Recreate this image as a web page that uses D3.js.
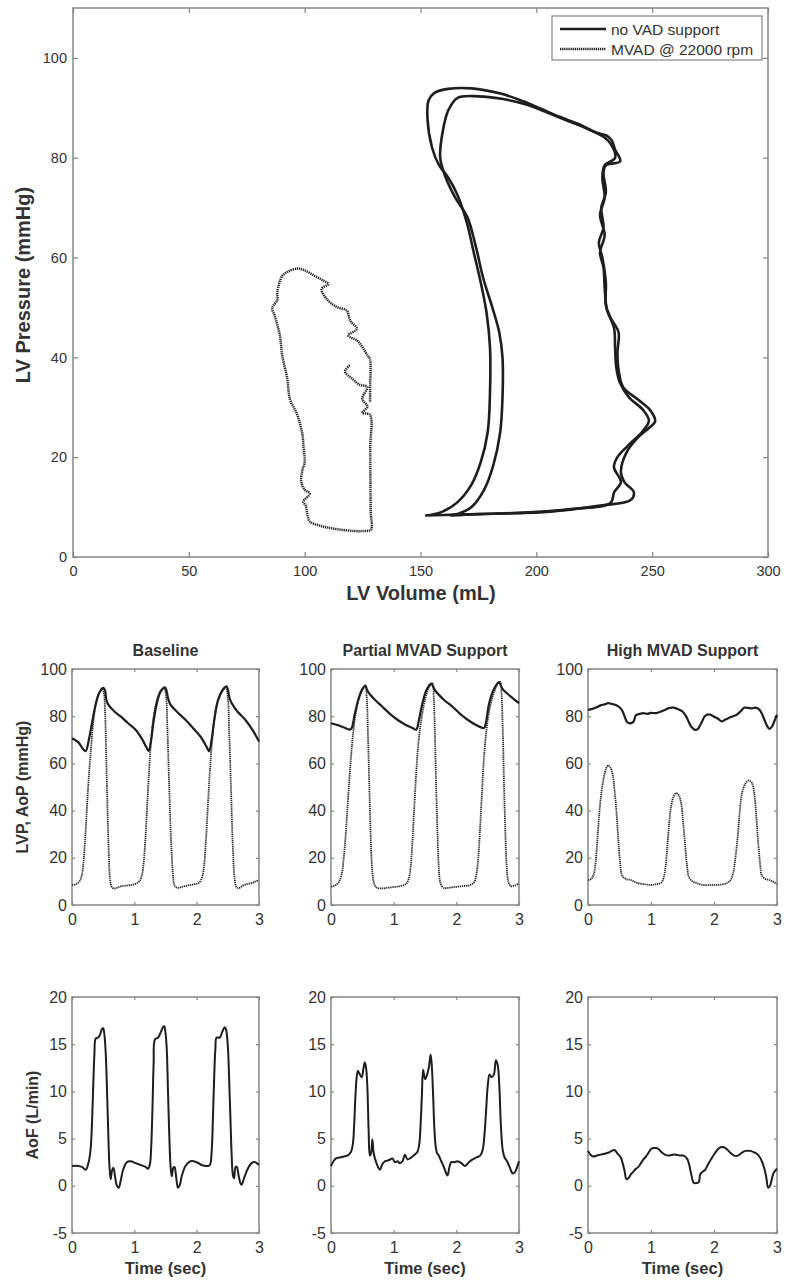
<!DOCTYPE html>
<html>
<head>
<meta charset="utf-8">
<script src="https://cdn.jsdelivr.net/npm/d3@7"></script>
<style>
  body { margin: 0; background: #fff; }
  svg text { font-family: "Liberation Sans", Arial, sans-serif; fill: #333; }
</style>
</head>
<body>
<svg id="fig" width="786" height="1280"></svg>
<script>
// ---- data ----
var volumeTicks = [0, 50, 100, 150, 200, 250, 300];
var pressureTicksPV = [0, 20, 40, 60, 80, 100];
var timeTicks = [0, 1, 2, 3];
var pressureTicks = [0, 20, 40, 60, 80, 100];
var flowTicks = [-5, 0, 5, 10, 15, 20];
var panelTitles = ["Baseline", "Partial MVAD Support", "High MVAD Support"];
var legendLabels = ["no VAD support", "MVAD @ 22000 rpm"];

// PV loops [volume mL, pressure mmHg]
var noVadLoop1 = [[152,8.3],[165,8.5],[184,8.7],[206,9.1],[227.6,10.3],[240.7,11.4],[242.1,13],[238,15],[236.5,17],[239,21],[244,24],[249,26],[251.3,27.2],[249,29.5],[244,31.5],[237.5,34],[235.5,37.5],[235,41],[235.5,45],[232,48],[230,50.5],[230,55],[228.5,60],[227,63],[229,66],[228,70],[230,73],[229,77],[230,78.5],[236.2,79.3],[234,81.6],[232.5,83.5],[230,84.5],[226,85],[218,86.8],[210,88.2],[202,89.8],[195,91.2],[185,92.8],[172,93.9],[162,93.8],[156,93],[153.5,91.5],[153,88],[155,82],[158,78.5],[162,76],[166,72.5],[170,67],[173,61],[176,55],[178.5,49],[180,42],[180,33],[179,25],[176,19],[172,14.5],[166,11],[159,9],[152,8.3]];
var noVadLoop2 = [[162.7,8.3],[175,8.6],[195,8.9],[215,9.6],[232,10.8],[233.6,13],[236.5,15],[233.5,18],[235,20],[240,22.5],[245.5,25],[248.6,27.3],[246,29.5],[240,32],[236,35],[234.5,38],[234,42],[233.5,46],[230.5,49.5],[229.5,54],[229,58],[227.5,61],[229.5,64.5],[227.5,68.5],[229.5,72],[228.5,76],[229.5,78.5],[234,80],[232.5,82.5],[229,84.2],[222,85.8],[214,87.3],[205,89],[196,90.6],[185,91.8],[175,92.3],[166,92],[162,89.5],[159.5,85],[158.5,80],[160.5,76.5],[165,72],[170.3,68],[174,62],[177,56],[181,50],[184,45],[185.4,40],[185.4,32],[184.4,25],[181.5,18.5],[177.5,13.5],[172,10],[166,8.6],[162.7,8.3]];
var mvadLoop = [[119.5,38.4],[117.4,37.2],[120.6,35.7],[123.8,34.5],[127,34.1],[124.9,31.7],[127.1,30.1],[124.9,28.9],[128.2,28.5],[128.3,22],[128.4,15],[128.5,9],[128.6,5.5],[125,5.2],[121.7,5.2],[115.2,5.5],[110,5.9],[106.5,6.3],[102.2,7.1],[101.1,8.7],[100.5,10.3],[99.4,11.1],[102.2,12.7],[100,13.5],[98.5,15.1],[99,17.4],[100,19],[99.5,22],[99,24.6],[96.8,28.5],[93.6,31.7],[92.5,35.7],[90.3,40.4],[89.3,44.4],[87.1,48.3],[86,49.9],[88.2,51.5],[88.2,53.1],[90.3,56.3],[92.5,57.1],[96.8,57.8],[100.1,57.4],[104.4,56.3],[108,55.4],[110.2,54.7],[107.3,53.7],[109.5,51.7],[113.8,50.1],[118.1,49.4],[119.6,47.4],[122.5,45.7],[118.8,44.4],[122.5,43.4],[123.8,42.8],[127.1,40.4],[128.2,39.6],[128.3,35],[128.2,31]];

// pressures [time s, mmHg]
var baselineAoP = [[0,70.7],[0.1,69],[0.18,66],[0.22,65.2],[0.27,70],[0.32,77],[0.38,85],[0.44,90],[0.5,92],[0.53,91],[0.55,87],[0.58,85],[0.68,82],[0.78,79.9],[0.9,77],[1.02,74.3],[1.12,70.5],[1.2,66.5],[1.23,65.3],[1.27,70],[1.31,78],[1.37,86.5],[1.43,90.8],[1.49,92.2],[1.52,90.5],[1.54,87.7],[1.58,84.9],[1.7,81.5],[1.82,78.5],[1.94,75],[2.06,71.4],[2.16,67],[2.2,65.2],[2.24,70],[2.28,78],[2.34,86.5],[2.42,91.2],[2.48,92.6],[2.51,90],[2.53,87.5],[2.56,85.6],[2.66,81.8],[2.78,78.5],[2.9,74],[3,69.3]];
var baselineLVP = [[0,8.5],[0.06,8.8],[0.12,10],[0.16,13],[0.19,20],[0.22,32],[0.25,46],[0.28,58],[0.31,68],[0.34,77],[0.38,85],[0.43,89.5],[0.48,91.5],[0.51,90],[0.53,82],[0.55,62],[0.57,40],[0.59,22],[0.61,11],[0.64,7.5],[0.68,7],[0.74,7.5],[0.8,8],[0.9,8.3],[1.0,8.8],[1.08,10],[1.12,12.5],[1.15,18],[1.18,29],[1.21,44],[1.24,58],[1.27,70],[1.31,80],[1.37,87.5],[1.43,91],[1.48,91.5],[1.51,88],[1.53,75],[1.56,50],[1.59,27],[1.62,13],[1.65,8],[1.7,7.3],[1.78,7.8],[1.86,8.3],[1.96,8.8],[2.04,9.5],[2.09,12],[2.12,17],[2.15,28],[2.18,42],[2.21,56],[2.24,67],[2.28,78],[2.34,86.5],[2.42,91],[2.47,92],[2.5,88],[2.52,75],[2.55,50],[2.58,25],[2.61,11],[2.64,7.5],[2.68,7.2],[2.74,8.2],[2.8,8.8],[2.88,9.3],[2.95,10],[3,10.5]];
var partialAoP = [[0,77],[0.1,76.3],[0.2,75.3],[0.3,74.3],[0.33,75],[0.38,81],[0.44,87.5],[0.5,91.5],[0.55,93],[0.57,91.5],[0.6,90],[0.7,87],[0.82,84],[0.94,81],[1.06,78.5],[1.18,76.5],[1.3,75],[1.36,74.3],[1.4,78],[1.46,85.6],[1.53,91.5],[1.6,93.8],[1.63,92.5],[1.66,91],[1.8,87],[1.94,84],[2.06,81],[2.18,78.5],[2.3,76.5],[2.44,75],[2.47,77],[2.52,85],[2.6,91.5],[2.68,94.5],[2.71,93],[2.74,91.5],[2.86,88.5],[3,85.5]];
var partialLVP = [[0,7.8],[0.08,8.5],[0.13,10],[0.17,13],[0.2,19],[0.23,28],[0.26,40],[0.29,52],[0.32,63],[0.35,72],[0.4,82],[0.46,88.5],[0.52,92],[0.55,92.5],[0.57,88],[0.59,72],[0.61,52],[0.63,32],[0.65,18],[0.68,10],[0.72,7.5],[0.8,7],[0.9,7.3],[1.0,7.6],[1.1,8],[1.2,9],[1.24,11],[1.27,16],[1.3,27],[1.33,42],[1.36,56],[1.4,70],[1.45,80],[1.51,88],[1.57,92.5],[1.62,94],[1.64,88],[1.66,70],[1.68,48],[1.7,30],[1.72,16],[1.75,9],[1.8,7.2],[1.9,7.4],[2.0,7.7],[2.1,8],[2.2,8.3],[2.28,9.5],[2.32,13],[2.35,20],[2.38,33],[2.41,48],[2.44,62],[2.48,74],[2.53,83],[2.6,90],[2.66,93.5],[2.7,94.5],[2.72,90],[2.74,75],[2.76,52],[2.78,33],[2.8,18],[2.83,10],[2.87,8],[2.93,8.3],[3,9]];
var highAoP = [[0,82.7],[0.06,83],[0.12,83.6],[0.2,84.6],[0.26,85],[0.32,85.5],[0.38,85.2],[0.44,84.7],[0.5,83.8],[0.54,82.5],[0.58,80],[0.62,77.5],[0.66,77],[0.72,77.6],[0.76,80.4],[0.82,81],[0.88,81.3],[0.94,81],[1.0,81.4],[1.08,81.3],[1.16,82],[1.22,82.6],[1.28,83.4],[1.36,83.6],[1.44,82.8],[1.5,82],[1.56,79.8],[1.6,77.5],[1.64,75.5],[1.7,74.2],[1.74,74.5],[1.8,77.2],[1.86,80.2],[1.92,80.8],[2.0,79.8],[2.06,79],[2.12,77.8],[2.18,78.6],[2.24,79.3],[2.3,80],[2.36,80.6],[2.42,82],[2.48,83.6],[2.54,83.5],[2.6,83.3],[2.66,83.6],[2.72,82.8],[2.76,81],[2.8,78.5],[2.84,76],[2.88,74.6],[2.92,75.6],[2.96,78],[3,80.6]];
var highLVP = [[0,10.6],[0.05,11],[0.09,13],[0.12,18],[0.15,28],[0.18,39],[0.21,47],[0.25,54],[0.29,58],[0.32,59.2],[0.35,58.5],[0.39,55.5],[0.42,49],[0.45,40],[0.48,28],[0.51,18],[0.54,12.5],[0.6,11],[0.68,10.6],[0.76,9.5],[0.84,9],[0.92,8.7],[1.0,8.5],[1.08,8.8],[1.16,9.4],[1.2,11.5],[1.23,16],[1.26,25],[1.29,35],[1.32,42],[1.36,46],[1.4,47.4],[1.44,46.5],[1.48,43],[1.51,35],[1.54,26],[1.57,17],[1.6,12],[1.65,10.2],[1.72,9.3],[1.8,8.6],[1.9,8.4],[2.0,8.5],[2.1,8.6],[2.2,9.2],[2.26,10.5],[2.3,13],[2.34,20],[2.38,30],[2.41,40],[2.45,48],[2.5,51.5],[2.55,52.8],[2.6,51.8],[2.64,47],[2.67,38],[2.7,27],[2.73,18],[2.76,12.5],[2.82,11],[2.88,10.6],[2.94,9.8],[3,8.8]];

// aortic flow [time s, L/min]
var baselineAoF = [[0,2.1],[0.1,2.1],[0.16,2],[0.22,1.7],[0.27,2.6],[0.3,4],[0.32,6.5],[0.34,10.5],[0.36,14],[0.38,15.6],[0.42,15.7],[0.45,16],[0.48,16.6],[0.5,16.7],[0.52,16],[0.54,14.2],[0.56,10.5],[0.58,6],[0.6,2.2],[0.62,0.7],[0.645,1.7],[0.665,1.9],[0.69,1],[0.72,0],[0.75,-0.2],[0.78,0.5],[0.82,1.7],[0.88,2.5],[0.94,2.6],[1.02,2.4],[1.1,2.2],[1.18,2],[1.22,1.8],[1.25,2.3],[1.27,4],[1.29,8],[1.31,13],[1.33,15.5],[1.38,15.7],[1.42,16.2],[1.46,16.8],[1.48,16.9],[1.5,16.2],[1.52,14.5],[1.54,10],[1.56,5.5],[1.58,2.2],[1.6,1],[1.625,1.9],[1.645,2],[1.67,1],[1.7,-0.2],[1.73,0.1],[1.76,1],[1.82,2.1],[1.9,2.6],[2.0,2.5],[2.08,2.2],[2.16,2.1],[2.21,2.2],[2.24,3.6],[2.26,7],[2.28,11.3],[2.3,14.5],[2.32,15.7],[2.37,15.7],[2.41,16.3],[2.45,16.8],[2.47,16.6],[2.5,14.8],[2.52,11.5],[2.54,7.5],[2.56,3.5],[2.58,1.2],[2.6,0.8],[2.625,2],[2.645,2],[2.67,1.2],[2.7,0.3],[2.72,0.1],[2.76,0.8],[2.82,1.8],[2.88,2.4],[2.94,2.5],[3,2.2]];
var partialAoF = [[0,2.1],[0.04,2.6],[0.08,2.9],[0.14,3],[0.2,3.1],[0.26,3.2],[0.32,3.6],[0.35,4.5],[0.37,6.5],[0.39,9.5],[0.41,11.5],[0.43,12.2],[0.46,11.8],[0.49,11.5],[0.52,12.5],[0.54,13.1],[0.56,12.5],[0.58,10.5],[0.6,6],[0.62,3.2],[0.64,3.5],[0.66,4.9],[0.68,3.5],[0.71,2.7],[0.75,2],[0.78,1.7],[0.82,2.3],[0.86,2.6],[0.92,2.7],[0.98,2.9],[1.02,2.5],[1.06,2.6],[1.1,2.4],[1.14,2.6],[1.18,3.3],[1.22,2.8],[1.26,2.9],[1.32,3.2],[1.38,3.6],[1.41,4.5],[1.43,6.5],[1.45,9.5],[1.47,12.3],[1.5,11.3],[1.53,11.7],[1.56,12.5],[1.59,13.9],[1.61,12.5],[1.63,9.5],[1.65,6],[1.67,4.2],[1.69,3.5],[1.72,3.2],[1.76,2.6],[1.8,2],[1.84,1.3],[1.86,1.1],[1.89,2],[1.92,2.5],[1.97,2.5],[2.02,2.6],[2.08,2.4],[2.14,2.1],[2.2,2.5],[2.26,2.8],[2.32,3],[2.38,3.2],[2.42,3.8],[2.45,5.5],[2.48,8.5],[2.5,10.5],[2.53,11.8],[2.56,11.5],[2.6,11.8],[2.63,13.3],[2.66,12.8],[2.69,10],[2.71,6.5],[2.74,3.8],[2.77,3],[2.81,2.6],[2.85,2],[2.9,1.3],[2.94,1.5],[2.97,2],[3,2.6]];
var highAoF = [[0,3.7],[0.04,3.3],[0.08,3.1],[0.14,3.2],[0.2,3.3],[0.26,3.4],[0.32,3.5],[0.38,3.7],[0.42,3.8],[0.47,3.4],[0.52,3],[0.55,2.4],[0.58,1.6],[0.61,0.7],[0.64,0.8],[0.68,1.2],[0.72,1.5],[0.76,1.8],[0.8,2],[0.84,2.4],[0.88,2.8],[0.92,3.1],[0.96,3.5],[1.0,3.9],[1.04,4],[1.08,4],[1.12,3.9],[1.16,3.6],[1.22,3.3],[1.28,3.2],[1.34,3.3],[1.4,3.3],[1.46,3.2],[1.52,3.2],[1.57,2.9],[1.6,2.4],[1.63,1.5],[1.66,0.6],[1.68,0.3],[1.72,0.3],[1.76,0.4],[1.78,1.2],[1.82,1.5],[1.86,1.7],[1.9,2.2],[1.96,2.9],[2.02,3.5],[2.08,4],[2.14,4.1],[2.2,3.9],[2.26,3.5],[2.32,3.2],[2.38,3.2],[2.44,3.5],[2.5,3.7],[2.56,3.7],[2.62,3.6],[2.68,3.4],[2.72,3.1],[2.76,2.6],[2.8,1.8],[2.83,0.9],[2.86,-0.2],[2.89,0],[2.92,0.8],[2.95,1.4],[3,1.8]];

// ---- drawing ----
var svg = d3.select("#fig"),
    ink = "#1e1e1e",
    frameColor = "#858585",
    textColor = "#3a3a3a",
    plainNumber = function(d){ return String(d); };

function drawFrame(g, x, y, xTicks, yTicks, opts) {
    var tl = opts.tickLen, fs = opts.fontSize;
    var bottom = y.range()[0], top = y.range()[1], left = x.range()[0], right = x.range()[1];

    function style(sel) {
        sel.select(".domain").remove();
        sel.selectAll(".tick line").attr("stroke", frameColor).attr("stroke-width", 1.2);
        sel.selectAll(".tick text").attr("fill", textColor)
            .style("font-size", fs + "px").style("font-family", opts.font);
        sel.attr("font-family", null).attr("font-size", null);
    }

    g.append("g").attr("transform", "translate(0," + bottom + ")")
        .call(d3.axisBottom(x).tickValues(xTicks).tickSize(-tl).tickPadding(opts.xPad).tickFormat(plainNumber))
        .call(style);
    g.append("g").attr("transform", "translate(" + left + ",0)")
        .call(d3.axisLeft(y).tickValues(yTicks).tickSize(-tl).tickPadding(opts.yPad).tickFormat(plainNumber))
        .call(style);
    g.append("g").attr("transform", "translate(0," + top + ")")
        .call(d3.axisTop(x).tickValues(xTicks).tickSize(-tl).tickFormat(""))
        .call(style);
    g.append("g").attr("transform", "translate(" + right + ",0)")
        .call(d3.axisRight(y).tickValues(yTicks).tickSize(-tl).tickFormat(""))
        .call(style);

    g.append("rect")
        .attr("x", left).attr("y", top)
        .attr("width", right - left).attr("height", bottom - top)
        .attr("fill", "none").attr("stroke", frameColor).attr("stroke-width", 1.5);
}

function trace(g, x, y, data, width, dotted) {
    var line = d3.line()
        .curve(d3.curveCatmullRom.alpha(0.5))
        .x(function(d){ return x(d[0]); })
        .y(function(d){ return y(d[1]); });
    var p = g.append("path").datum(data)
        .attr("d", line)
        .attr("fill", "none")
        .attr("stroke", ink)
        .attr("stroke-width", width)
        .attr("stroke-linejoin", "round");
    if (dotted) p.attr("stroke-dasharray", "1.3,0.8").attr("stroke", "#262626");
    return p;
}

// --- PV loop plot ---
var pvX = d3.scaleLinear().domain([0, 300]).range([73, 768]),
    pvY = d3.scaleLinear().domain([0, 110]).range([557, 8]);
var pv = svg.append("g");

drawFrame(pv, pvX, pvY, volumeTicks, pressureTicksPV,
    {tickLen: 5, fontSize: 14.5, xPad: 9, yPad: 6, font: "Liberation Sans, Arial, sans-serif"});

trace(pv, pvX, pvY, noVadLoop1, 2.6, false);
trace(pv, pvX, pvY, noVadLoop2, 2.6, false);
trace(pv, pvX, pvY, mvadLoop, 2.5, true);

var legend = pv.append("g");
legend.append("rect").attr("x", 552).attr("y", 16).attr("width", 210).attr("height", 44)
    .attr("fill", "#fff").attr("stroke", frameColor).attr("stroke-width", 1.2);
legendLabels.forEach(function(lbl, i) {
    var ly = 29 + i * 20;
    legend.append("line").attr("x1", 560).attr("x2", 606).attr("y1", ly).attr("y2", ly)
        .attr("stroke", ink).attr("stroke-width", i === 0 ? 2.6 : 2.5)
        .attr("stroke-dasharray", i === 0 ? null : "1.3,0.8");
    legend.append("text").attr("x", 611).attr("y", ly + 5.5)
        .style("font-size", "15.5px").text(lbl);
});

pv.append("text").attr("x", 421).attr("y", 600).attr("text-anchor", "middle")
    .style("font-size", "20px").style("font-weight", "bold").text("LV Volume (mL)");
pv.append("text").attr("transform", "translate(30,285) rotate(-90)").attr("text-anchor", "middle")
    .style("font-size", "20px").style("font-weight", "bold").text("LV Pressure (mmHg)");

// --- time series panels ---
var panelX = [[72, 259], [331, 519], [588, 777]];
var pressureSets = [[baselineAoP, baselineLVP], [partialAoP, partialLVP], [highAoP, highLVP]];
var flowSets = [baselineAoF, partialAoF, highAoF];
var panelFont = "Liberation Sans, Arial, sans-serif";

panelX.forEach(function(px, i) {
    var x = d3.scaleLinear().domain([0, 3]).range(px);
    var yP = d3.scaleLinear().domain([0, 100]).range([905, 669]);
    var yF = d3.scaleLinear().domain([-5, 20]).range([1233, 997]);
    var cx = (px[0] + px[1]) / 2;

    var gp = svg.append("g");
    drawFrame(gp, x, yP, timeTicks, pressureTicks,
        {tickLen: 3, fontSize: 16, xPad: 9, yPad: 5, font: panelFont});
    trace(gp, x, yP, pressureSets[i][1], 1.8, true);
    trace(gp, x, yP, pressureSets[i][0], 2.2, false);
    gp.append("text").attr("x", cx).attr("y", 656).attr("text-anchor", "middle")
        .style("font-family", panelFont).style("font-size", "16px").style("font-weight", "bold")
        .text(panelTitles[i]);

    var gf = svg.append("g");
    drawFrame(gf, x, yF, timeTicks, flowTicks,
        {tickLen: 3, fontSize: 16, xPad: 9, yPad: 5, font: panelFont});
    trace(gf, x, yF, flowSets[i], 2, false);
    gf.append("text").attr("x", cx).attr("y", 1274).attr("text-anchor", "middle")
        .style("font-family", panelFont).style("font-size", "16.5px").style("font-weight", "bold")
        .text("Time (sec)");
});

svg.append("text").attr("transform", "translate(28,787) rotate(-90)").attr("text-anchor", "middle")
    .style("font-size", "16px").style("font-weight", "bold").text("LVP, AoP (mmHg)");
svg.append("text").attr("transform", "translate(38,1115) rotate(-90)").attr("text-anchor", "middle")
    .style("font-size", "16px").style("font-weight", "bold").text("AoF (L/min)");
</script>
</body>
</html>
